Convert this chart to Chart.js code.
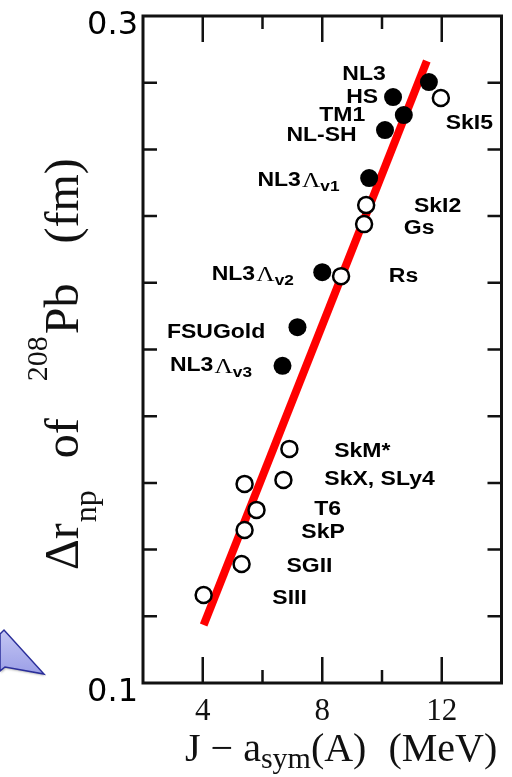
<!DOCTYPE html>
<html>
<head>
<meta charset="utf-8">
<script src="https://cdn.jsdelivr.net/npm/chart.js@4.4.0/dist/chart.umd.min.js"></script>
<style>
  body { margin: 0; background: #fff; }
  #wrap { width: 512px; height: 777px; }
</style>
</head>
<body>
<div id="wrap"><canvas id="chart" width="512" height="777"></canvas></div>
<script>
// relativistic models (filled dots)
const rmfNames = ["NL3", "HS", "TM1", "NL-SH", "NL3Λv1", "NL3Λv2", "FSUGold", "NL3Λv3"];
const rmfX = [11.57, 10.37, 10.73, 10.1, 9.57, 8.0, 7.17, 6.67];
const rmfY = [0.2802, 0.2757, 0.2703, 0.2658, 0.2514, 0.2232, 0.2067, 0.1951];

// Skyrme models (open circles)
const skyNames = ["SkI5", "SkI2", "Gs", "Rs", "SkM*", "SkX", "SLy4", "T6", "SkP", "SGII", "SIII"];
const skyX = [11.97, 9.47, 9.4, 8.63, 6.9, 5.4, 6.7, 5.8, 5.4, 5.3, 4.03];
const skyY = [0.2754, 0.2433, 0.2376, 0.2220, 0.1702, 0.1597, 0.1609, 0.1519, 0.1459, 0.1357, 0.1264];

// straight line fit
const fitX = [4.03, 11.5];
const fitY = [0.1174, 0.2865];

// names written in the plot, anchored in data units (left edge, middle)
const labelText = ["NL3", "HS", "TM1", "NL-SH", "NL3Λv1", "SkI5", "SkI2", "Gs", "NL3Λv2", "Rs",
                   "FSUGold", "NL3Λv3", "SkM*", "SkX, SLy4", "T6", "SkP", "SGII", "SIII"];
const labelX = [8.67, 8.8, 7.9, 6.8, 5.83, 12.13, 11.07, 10.73, 4.3, 10.23,
                2.8, 2.9, 8.4, 8.07, 7.73, 7.3, 6.8, 6.33];
const labelY = [0.2826, 0.2757, 0.2703, 0.2643, 0.2508, 0.2679, 0.2430, 0.2364, 0.2226, 0.2220,
                0.2052, 0.1951, 0.1693, 0.1609, 0.1519, 0.1450, 0.1348, 0.1252];

const xTickLabels = [4, 8, 12];
const yTickLabels = ["0.1", "0.3"];

function toPoints(xs, ys) {
    return xs.map((x, i) => ({ x: x, y: ys[i] }));
}

function drawLabel(ctx, text, px, py) {
    ctx.save();
    ctx.translate(px, py);
    ctx.scale(1.15, 1);
    ctx.fillStyle = "#000";
    ctx.textBaseline = "middle";
    ctx.textAlign = "left";
    const bold = 'bold 20px "Liberation Sans", Arial, sans-serif';
    const k = text.indexOf("Λ");
    if (k < 0) {
        ctx.font = bold;
        ctx.fillText(text, 0, 0);
    } else {
        const head = text.slice(0, k);
        const sub = text.slice(k + 1);
        let x = 0;
        ctx.font = bold;
        ctx.fillText(head, x, 0);
        x += ctx.measureText(head).width + 1;
        ctx.font = '22px "Liberation Serif", serif';
        ctx.fillText("Λ", x, 1);
        x += ctx.measureText("Λ").width;
        ctx.font = 'bold 15px "Liberation Sans", Arial, sans-serif';
        ctx.fillText(sub, x, 7);
    }
    ctx.restore();
}

// draw a run of text pieces with their own size and baseline shift
function drawRun(ctx, parts) {
    let x = 0;
    for (const p of parts) {
        x += p.gap;
        ctx.font = p.size + 'px "Liberation Serif", "Times New Roman", serif';
        ctx.fillText(p.t, x, p.dy);
        x += ctx.measureText(p.t).width;
    }
}

const decor = {
    id: "decor",
    beforeDraw(chart) {
        const ctx = chart.ctx;
        ctx.save();
        ctx.fillStyle = "#fff";
        ctx.fillRect(0, 0, chart.width, chart.height);
        ctx.restore();
    },
    beforeDatasetsDraw(chart) {
        const ctx = chart.ctx;
        const a = chart.chartArea;
        const xs = chart.scales.x;
        const ys = chart.scales.y;
        ctx.save();
        ctx.strokeStyle = "#111";
        ctx.lineWidth = 3;
        ctx.strokeRect(a.left, a.top, a.right - a.left, a.bottom - a.top);
        ctx.lineWidth = 2.5;
        ctx.beginPath();
        ys.ticks.forEach((t) => {
            if (t.value <= ys.min + 1e-9 || t.value >= ys.max - 1e-9) return;
            const py = ys.getPixelForValue(t.value);
            ctx.moveTo(a.left, py); ctx.lineTo(a.left + 14, py);
            ctx.moveTo(a.right, py); ctx.lineTo(a.right - 14, py);
        });
        xs.ticks.forEach((t) => {
            if (t.value <= xs.min || t.value >= xs.max) return;
            const px = xs.getPixelForValue(t.value);
            const len = xTickLabels.includes(t.value) ? 26 : 13;
            ctx.moveTo(px, a.bottom); ctx.lineTo(px, a.bottom - len);
            ctx.moveTo(px, a.top); ctx.lineTo(px, a.top + len);
        });
        ctx.stroke();
        ctx.restore();
    },
    afterDraw(chart) {
        const ctx = chart.ctx;
        const xs = chart.scales.x;
        const ys = chart.scales.y;

        labelText.forEach((t, i) => {
            drawLabel(ctx, t, xs.getPixelForValue(labelX[i]), ys.getPixelForValue(labelY[i]));
        });

        // y axis title, rotated
        ctx.save();
        ctx.fillStyle = "#111";
        ctx.translate(78, 570);
        ctx.rotate(-Math.PI / 2);
        drawRun(ctx, [
            { t: "Δr", size: 48, dy: 0, gap: 0 },
            { t: "np", size: 32, dy: 18, gap: 1 },
            { t: "of", size: 48, dy: 0, gap: 32 },
            { t: "208", size: 30, dy: -31, gap: 37 },
            { t: "Pb", size: 48, dy: 0, gap: 2 },
            { t: "(fm)", size: 48, dy: 0, gap: 40 }
        ]);
        ctx.restore();

        // x axis title
        ctx.save();
        ctx.fillStyle = "#111";
        ctx.translate(185, 761);
        drawRun(ctx, [
            { t: "J − a", size: 40, dy: 0, gap: 0 },
            { t: "sym", size: 30, dy: 7, gap: 0 },
            { t: "(A)", size: 40, dy: 0, gap: 0 },
            { t: "(MeV)", size: 40, dy: 0, gap: 22 }
        ]);
        ctx.restore();

        // blue arrow head at the lower left
        ctx.save();
        ctx.beginPath();
        ctx.moveTo(0, 634);
        ctx.lineTo(4, 630);
        ctx.lineTo(44, 674);
        ctx.lineTo(5, 667);
        ctx.lineTo(0, 671);
        ctx.closePath();
        const g = ctx.createLinearGradient(0, 630, 0, 675);
        g.addColorStop(0, "#c4c6f4");
        g.addColorStop(1, "#9a9ee6");
        ctx.fillStyle = g;
        ctx.shadowColor = "rgba(0,0,0,0.25)";
        ctx.shadowOffsetX = 1;
        ctx.shadowOffsetY = 2;
        ctx.shadowBlur = 2;
        ctx.fill();
        ctx.shadowColor = "transparent";
        ctx.strokeStyle = "#2a2e9a";
        ctx.lineWidth = 1.5;
        ctx.stroke();
        ctx.restore();
    }
};

const ctx = document.getElementById("chart").getContext("2d");
const chart = new Chart(ctx, {
    type: "scatter",
    data: {
        datasets: [
            {
                label: "RMF",
                data: toPoints(rmfX, rmfY),
                pointRadius: 9,
                pointBackgroundColor: "#000",
                pointBorderWidth: 0,
                order: 1
            },
            {
                label: "Skyrme",
                data: toPoints(skyX, skyY),
                pointRadius: 8,
                pointBackgroundColor: "#fff",
                pointBorderColor: "#000",
                pointBorderWidth: 2.5,
                order: 1
            },
            {
                label: "fit",
                type: "line",
                data: toPoints(fitX, fitY),
                borderColor: "#ff0000",
                borderWidth: 8,
                borderCapStyle: "butt",
                pointRadius: 0,
                fill: false,
                order: 2
            }
        ]
    },
    options: {
        responsive: false,
        animation: false,
        layout: { padding: { left: 0, right: 9, top: 16, bottom: 0 } },
        plugins: {
            legend: { display: false },
            tooltip: { enabled: false }
        },
        scales: {
            x: {
                type: "linear",
                min: 2,
                max: 14,
                grid: { display: false, drawTicks: false },
                border: { display: false },
                ticks: {
                    stepSize: 2,
                    autoSkip: false,
                    maxRotation: 0,
                    padding: 10,
                    color: "#111",
                    font: { family: '"Liberation Serif", "Times New Roman", serif', size: 31 },
                    callback: (v) => (xTickLabels.includes(v) ? String(v) : "")
                },
                afterFit: (s) => { s.height = 94; s.paddingLeft = 0; s.paddingRight = 0; }
            },
            y: {
                type: "linear",
                min: 0.1,
                max: 0.3,
                grid: { display: false, drawTicks: false },
                border: { display: false },
                ticks: {
                    stepSize: 0.02,
                    autoSkip: false,
                    padding: 5,
                    labelOffset: 10,
                    color: "#000",
                    font: { family: '"DejaVu Sans", sans-serif', size: 32 },
                    callback: (v) => yTickLabels.find((t) => Math.abs(parseFloat(t) - v) < 1e-6) || ""
                },
                afterFit: (s) => { s.width = 143; s.paddingTop = 0; s.paddingBottom = 0; }
            }
        }
    },
    plugins: [decor]
});
</script>
</body>
</html>
